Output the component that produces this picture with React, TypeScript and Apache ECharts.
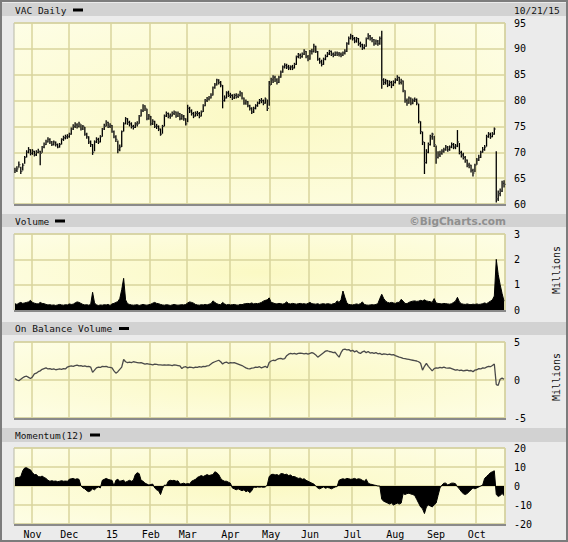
import React, { useEffect, useRef } from "react";
import * as echarts from "echarts";

// ---- calendar (trading days) ----
const START = "2014-10-21";
const END = "2015-10-21";
const HOLIDAYS = ["2014-11-27", "2014-12-25", "2015-01-01", "2015-01-19", "2015-02-16", "2015-04-03", "2015-05-25", "2015-07-03", "2015-09-07"];
const MONTH_LABELS = ["15", "Feb", "Mar", "Apr", "May", "Jun", "Jul", "Aug", "Sep", "Oct", "Nov", "Dec"];

// ---- price (daily close / high / low) ----
const CLOSE = [
  66.5, 66.8, 67.6, 66.3, 67.5, 69.0, 70.0, 70.5, 69.8, 70.2,
  69.5, 70.0, 70.2, 69.8, 71.0, 71.5, 72.0, 72.5, 72.0, 71.5,
  72.0, 71.5, 71.0, 71.5, 72.5, 72.8, 73.0, 73.0, 73.5, 74.5,
  75.0, 75.3, 75.0, 75.5, 74.5, 75.0, 73.5, 73.0, 72.0, 71.5,
  70.0, 72.0, 72.5, 72.0, 73.0, 74.5, 75.0, 75.8, 75.0, 75.2,
  74.0, 73.0, 72.5, 70.5, 71.0, 74.0, 75.5, 76.5, 75.8, 75.5,
  75.0, 74.8, 75.5, 75.5, 77.0, 78.0, 79.0, 78.5, 76.5, 77.0,
  75.5, 76.0, 75.0, 75.0, 74.5, 73.5, 75.0, 77.0, 77.5, 77.0,
  77.0, 77.5, 77.8, 77.0, 77.5, 76.5, 77.0, 76.5, 75.5, 78.5,
  78.0, 77.5, 77.0, 77.5, 77.5, 77.0, 77.8, 79.0, 80.0, 80.3,
  80.5, 81.0, 82.5, 83.0, 84.0, 83.5, 83.0, 80.0, 80.5, 81.5,
  81.0, 81.0, 80.5, 81.0, 80.8, 81.0, 81.5, 80.5, 79.5, 79.8,
  79.0, 78.5, 77.8, 78.5, 79.0, 79.5, 80.0, 80.0, 79.5, 80.3,
  78.5, 83.0, 84.0, 84.5, 84.0, 83.5, 84.5, 85.5, 86.5, 86.8,
  86.5, 86.3, 86.5, 86.3, 87.0, 88.5, 88.8, 88.5, 89.0, 89.5,
  88.5, 88.0, 89.5, 89.5, 90.5, 89.5, 88.0, 87.5, 87.0, 88.0,
  88.5, 89.0, 89.5, 89.0, 88.8, 89.2, 89.0, 89.0, 88.8, 89.2,
  89.5, 91.0, 92.0, 92.5, 92.0, 91.5, 92.0, 91.0, 90.8, 90.2,
  90.5, 92.0, 92.5, 92.0, 91.8, 91.0, 91.5, 91.0, 92.0, 84.0,
  83.5, 83.8, 83.0, 83.5, 83.0, 83.5, 84.0, 84.5, 83.5, 83.8,
  82.0, 80.0, 79.5, 80.5, 79.5, 80.0, 80.2, 79.5, 76.0, 74.0,
  72.0, 68.0, 70.0, 71.5, 73.0, 73.5, 71.5, 69.0, 69.5, 69.8,
  70.2, 70.5, 71.0, 70.5, 71.0, 71.5, 71.0, 71.2, 72.0, 70.0,
  69.5, 69.0, 68.5, 67.5, 67.5, 66.5, 66.0, 67.5, 68.5, 69.0,
  70.0, 70.5, 71.0, 73.0, 73.5, 73.0, 73.5, 74.5, 61.0, 62.0,
  62.5, 64.0, 63.8,
];
const HIGH = [
  67.0, 67.3, 68.2, 67.2, 67.9, 69.3, 70.4, 71.0, 70.6, 70.6,
  70.3, 70.4, 70.7, 70.3, 71.2, 71.9, 72.4, 72.9, 72.7, 72.2,
  72.3, 72.1, 71.7, 71.8, 72.7, 73.2, 73.4, 73.5, 73.8, 74.8,
  75.4, 75.8, 75.6, 75.9, 75.4, 75.3, 74.9, 73.8, 73.1, 72.3,
  71.6, 72.3, 72.9, 72.8, 73.3, 74.7, 75.5, 76.2, 75.9, 75.6,
  75.3, 74.2, 73.3, 72.3, 71.5, 74.2, 75.8, 76.8, 76.6, 76.1,
  75.8, 75.3, 75.8, 76.0, 77.2, 78.3, 79.3, 79.1, 78.4, 77.4,
  77.0, 76.4, 76.1, 75.5, 75.2, 74.6, 75.3, 77.3, 77.9, 77.7,
  77.5, 77.9, 78.1, 77.9, 77.9, 77.6, 77.4, 77.2, 76.6, 79.2,
  78.8, 78.3, 77.8, 77.9, 78.0, 77.8, 78.1, 79.3, 80.3, 80.7,
  80.9, 81.4, 82.7, 83.4, 84.2, 84.1, 83.8, 83.0, 81.0, 81.8,
  81.9, 81.5, 81.2, 81.3, 81.4, 81.3, 81.9, 81.6, 80.6, 80.2,
  79.9, 79.2, 78.7, 78.8, 79.3, 79.8, 80.3, 80.5, 80.2, 80.6,
  80.2, 83.8, 84.4, 84.9, 84.8, 84.3, 84.8, 85.8, 86.8, 87.2,
  87.1, 86.9, 86.8, 86.9, 87.3, 88.7, 89.2, 89.1, 89.3, 89.9,
  89.6, 88.8, 89.8, 90.0, 91.0, 90.6, 89.6, 88.3, 87.9, 88.3,
  88.9, 89.4, 89.8, 89.7, 89.3, 89.5, 89.5, 89.4, 89.3, 89.5,
  89.9, 91.3, 92.4, 92.9, 92.7, 92.3, 92.3, 92.1, 91.4, 91.0,
  90.9, 92.2, 93.0, 92.7, 92.3, 91.9, 91.8, 91.7, 92.4, 93.5,
  84.3, 84.2, 84.0, 83.9, 83.8, 83.9, 84.3, 84.9, 84.6, 84.2,
  83.9, 82.0, 80.4, 80.8, 80.6, 80.4, 80.6, 80.4, 79.4, 76.0,
  74.0, 72.0, 70.6, 71.9, 73.4, 73.8, 73.2, 71.3, 70.2, 70.3,
  70.6, 70.9, 71.4, 71.2, 71.3, 71.9, 71.8, 71.6, 74.3, 71.8,
  70.3, 69.9, 69.3, 68.6, 68.0, 67.6, 66.8, 67.8, 68.9, 69.5,
  70.3, 71.0, 71.4, 73.4, 73.9, 73.8, 73.9, 74.8, 70.2, 62.6,
  63.0, 64.5, 64.6,
];
const LOW = [
  66.0, 66.2, 67.0, 65.8, 66.5, 67.8, 69.0, 69.8, 69.4, 69.5,
  69.2, 69.3, 69.8, 67.5, 69.9, 70.8, 71.4, 71.9, 71.6, 71.2,
  71.3, 71.1, 70.8, 70.9, 71.5, 72.2, 72.5, 72.6, 72.8, 73.4,
  74.3, 74.7, 74.6, 74.8, 74.2, 74.3, 73.2, 72.6, 71.6, 71.0,
  69.5, 70.2, 71.8, 71.6, 71.9, 73.0, 74.3, 75.0, 74.7, 74.7,
  73.8, 72.7, 72.0, 69.8, 70.2, 71.0, 74.0, 75.4, 75.3, 75.0,
  74.6, 74.4, 74.7, 75.0, 75.5, 76.9, 77.8, 78.0, 76.2, 76.3,
  75.2, 75.3, 74.7, 74.5, 74.1, 73.2, 73.6, 75.0, 76.8, 76.6,
  76.5, 76.9, 77.2, 76.7, 76.8, 76.2, 76.3, 76.1, 75.2, 75.8,
  77.6, 77.1, 76.6, 76.9, 77.0, 76.6, 76.9, 77.8, 78.9, 79.7,
  80.0, 80.4, 81.0, 82.3, 82.9, 83.1, 82.6, 78.5, 79.8, 80.4,
  80.7, 80.5, 80.1, 80.3, 80.4, 80.5, 80.8, 80.2, 79.2, 79.2,
  78.7, 78.1, 77.4, 77.6, 78.3, 78.8, 79.3, 79.5, 79.1, 79.4,
  78.0, 79.0, 83.0, 83.4, 83.6, 83.1, 83.4, 84.4, 85.4, 86.2,
  86.1, 85.9, 85.9, 85.9, 86.2, 86.9, 88.2, 88.1, 88.3, 88.8,
  88.2, 87.6, 87.9, 88.9, 89.3, 89.2, 87.7, 87.1, 86.6, 86.9,
  87.8, 88.4, 88.8, 88.6, 88.4, 88.6, 88.6, 88.5, 88.4, 88.6,
  88.9, 89.4, 90.8, 91.8, 91.6, 91.1, 91.2, 90.6, 90.3, 89.8,
  89.9, 90.4, 91.8, 91.6, 91.3, 90.6, 90.8, 90.6, 90.8, 82.3,
  83.0, 83.1, 82.6, 82.8, 82.4, 82.8, 83.3, 83.8, 83.1, 83.1,
  81.6, 79.6, 79.0, 79.4, 79.1, 79.3, 79.7, 79.1, 75.6, 73.5,
  71.4, 65.8, 67.8, 69.8, 71.3, 72.4, 71.0, 67.8, 68.8, 69.1,
  69.5, 69.9, 70.3, 70.1, 70.3, 70.8, 70.6, 70.6, 71.0, 69.6,
  69.0, 68.6, 68.0, 67.1, 66.9, 66.1, 65.3, 66.2, 67.6, 68.3,
  68.9, 69.9, 70.3, 71.1, 72.8, 72.6, 72.9, 73.4, 60.3, 60.6,
  61.5, 62.3, 63.2,
];

// ---- volume (millions) ----
const VOLUME = [
  0.25, 0.22, 0.27, 0.30, 0.26, 0.28, 0.30, 0.32, 0.38, 0.30,
  0.27, 0.25, 0.24, 0.30, 0.26, 0.25, 0.22, 0.20, 0.21, 0.19,
  0.20, 0.18, 0.20, 0.22, 0.20, 0.19, 0.21, 0.20, 0.24, 0.22,
  0.23, 0.28, 0.32, 0.30, 0.26, 0.22, 0.20, 0.21, 0.19, 0.22,
  0.70, 0.28, 0.20, 0.18, 0.20, 0.19, 0.21, 0.20, 0.22, 0.18,
  0.24, 0.26, 0.30, 0.33, 0.45, 0.80, 1.25, 0.40, 0.25, 0.22,
  0.20, 0.19, 0.20, 0.21, 0.18, 0.20, 0.22, 0.20, 0.19, 0.21,
  0.23, 0.27, 0.30, 0.26, 0.25, 0.22, 0.20, 0.19, 0.21, 0.20,
  0.18, 0.20, 0.22, 0.20, 0.19, 0.20, 0.21, 0.20, 0.22, 0.28,
  0.32, 0.30, 0.27, 0.22, 0.20, 0.19, 0.21, 0.20, 0.22, 0.20,
  0.23, 0.25, 0.36, 0.30, 0.25, 0.22, 0.21, 0.30, 0.24, 0.20,
  0.22, 0.20, 0.21, 0.22, 0.20, 0.19, 0.22, 0.21, 0.24, 0.25,
  0.26, 0.25, 0.28, 0.24, 0.26, 0.25, 0.27, 0.30, 0.35, 0.38,
  0.40, 0.48, 0.30, 0.28, 0.25, 0.24, 0.26, 0.25, 0.23, 0.26,
  0.32, 0.25, 0.24, 0.26, 0.25, 0.23, 0.25, 0.26, 0.24, 0.25,
  0.23, 0.26, 0.30, 0.25, 0.24, 0.23, 0.25, 0.22, 0.24, 0.25,
  0.23, 0.25, 0.24, 0.22, 0.25, 0.26, 0.36, 0.30, 0.40, 0.75,
  0.50, 0.28, 0.22, 0.21, 0.20, 0.22, 0.24, 0.22, 0.25, 0.32,
  0.22, 0.20, 0.19, 0.20, 0.21, 0.20, 0.22, 0.25, 0.45, 0.62,
  0.45, 0.35, 0.30, 0.28, 0.30, 0.28, 0.26, 0.30, 0.30, 0.42,
  0.35, 0.26, 0.25, 0.30, 0.33, 0.35, 0.36, 0.34, 0.35, 0.38,
  0.36, 0.40, 0.36, 0.34, 0.33, 0.30, 0.45, 0.28, 0.26, 0.25,
  0.24, 0.26, 0.25, 0.24, 0.23, 0.25, 0.30, 0.35, 0.50, 0.32,
  0.25, 0.23, 0.22, 0.24, 0.22, 0.21, 0.23, 0.22, 0.24, 0.22,
  0.23, 0.25, 0.28, 0.25, 0.30, 0.35, 0.40, 0.55, 2.00, 1.40,
  1.00, 0.65, 0.35,
];

// ---- on balance volume (millions) ----
const OBV = [
  0.2, 0.0, -0.1, 0.1, 0.3, 0.45, 0.5, 0.35, 0.2, 0.4,
  0.8, 0.9, 1.1, 1.2, 1.4, 1.5, 1.6, 1.45, 1.5, 1.4,
  1.45, 1.35, 1.4, 1.45, 1.4, 1.5, 1.45, 1.7, 1.8, 1.85,
  1.8, 1.9, 1.95, 1.85, 1.9, 1.8, 1.85, 1.75, 1.8, 1.7,
  1.0, 1.3, 1.6, 1.7, 1.65, 1.8, 1.75, 1.8, 1.7, 1.65,
  1.6, 1.2, 0.9, 1.1, 1.4, 1.7, 2.7, 2.4, 2.3, 2.35,
  2.3, 2.4, 2.35, 2.3, 2.25, 2.3, 2.2, 2.1, 2.15, 2.1,
  2.05, 2.0, 2.1, 2.05, 2.0, 2.0, 1.95, 2.0, 1.95, 2.0,
  1.95, 1.9, 2.0, 1.95, 1.9, 1.85, 1.5, 1.7, 1.75, 1.6,
  1.7, 1.65, 1.6, 1.7, 1.65, 1.75, 1.7, 1.8, 1.75, 1.85,
  1.9, 2.1, 2.3, 2.4, 2.5, 2.6, 2.4, 2.1, 2.3, 2.35,
  2.2, 2.3, 2.25, 2.3, 2.2, 2.1, 2.0, 1.9, 1.75, 1.6,
  1.5, 1.45, 1.55, 1.6, 1.7, 1.65, 1.75, 1.6, 1.7, 1.8,
  1.6, 2.3, 2.5, 2.6, 2.55, 2.7, 2.8, 2.85, 2.75, 2.8,
  3.2, 3.4, 3.5, 3.45, 3.5, 3.4, 3.5, 3.55, 3.5, 3.45,
  3.5, 3.4, 3.5, 3.6, 3.5, 3.3, 3.0, 3.2, 3.4, 3.6,
  3.8, 3.85, 3.75, 3.7, 3.6, 3.65, 3.3, 3.0, 3.6, 4.0,
  4.05, 3.95, 4.0, 3.8, 3.9, 3.7, 3.85, 3.6, 3.5, 3.7,
  3.8, 3.6, 3.75, 3.55, 3.6, 3.5, 3.6, 3.45, 3.5, 3.35,
  3.45, 3.4, 3.35, 3.4, 3.3, 3.35, 3.2, 3.1, 3.0, 2.95,
  2.85, 2.8, 2.75, 2.7, 2.65, 2.6, 2.55, 2.5, 2.4, 2.2,
  1.3, 1.8, 2.2, 1.8, 1.5, 1.2, 1.5, 1.6, 1.55, 1.65,
  1.6, 1.7, 1.6, 1.55, 1.6, 1.5, 1.4, 1.3, 1.35, 1.25,
  1.3, 1.2, 1.25, 1.3, 1.2, 1.25, 1.1, 1.3, 1.35, 1.5,
  1.45, 1.6, 1.55, 1.7, 1.8, 1.75, 1.9, 2.1, -0.6, -0.7,
  0.1, 0.25, 0.1,
];

// ---- momentum (12) ----
const MOMENTUM = [
  4, 4.5, 4.5, 5, 8, 9.5, 9.6, 9, 8.5, 7,
  6, 6, 5, 4.8, 5.2, 4.5, 4, 3, 2.5, 2.8,
  2.5, 2.6, 2.3, 2.5, 2.8, 2.5, 2.6, 2.5, 3.5, 3.8,
  4, 3.5, 3.8, 3.5, 0, -1, -1.5, -2.5, -3, -2.5,
  -1.5, -2, -1, -0.5, -1, 3, 3.5, 4, 3.5, 3.2,
  3, 0, 3, 3.5, 2.5, 2.8, 3, 2, 2.5, 3,
  2.5, 3, 6, 7, 6.5, 3, 2.5, 1.5, 1, 0.5,
  0.8, 1, -1, -2, -2.5, -4.5, -1.5, 0.5, 0.3, 2.5,
  3, 2.8, 3, 2.5, 2.7, 1, 1.2, 1.5, 1, 1.3,
  1, 2.5, 3, 3.5, 4.5, 5, 5.5, 5, 5.5, 6,
  5.5, 5.8, 6, 7.5, 7, 6, 4, 3, 2.5, 2.5,
  2, 1.5, -1, -1.5, -2, -1.5, -2, -2.5, -2, -3,
  -2.5, -3.5, -2.5, -0.5, -0.8, -0.5, -0.6, -0.5, -0.7, -0.5,
  0.5, 5, 6, 6.2, 5.8, 6, 5.5, 6.5, 6.5, 6,
  6.2, 5.5, 5.8, 5, 5, 4.5, 4, 4.2, 3.5, 3.8,
  3, 2.5, 2, 1.5, 1, 0, -1, -1.5, -1, -0.5,
  -1.2, -0.8, -1, -1.5, -1, -0.5, -0.3, 3, 3.5, 3.8,
  3.5, 4, 3.8, 3.5, 3.7, 4, 3.5, 3.8, 3.6, 3,
  2.5, 3.5, 1.5, 1, 0.8, 0.5, 0.3, 0, 0, -7,
  -8, -8.5, -9, -9.5, -9, -10, -9.5, -9, -9.5, -9,
  -4, -4.5, -4, -3.8, -4.2, -4.5, -5, -7, -9, -11,
  -12, -14.5, -11, -10, -10.5, -11, -10, -9, -5, -1,
  0.5, 1.5, 1.5, 0.5, 1, 1.5, 1.5, 1.2, -0.5, -1.5,
  -3, -4, -4.5, -4, -3, -2, -1, -1.5, -1, -0.5,
  0, 0.5, 4, 5, 6, 7, 7.5, 8, -4.5, -5.5,
  -5, -4, -5,
];

function buildTradingDays(start: string, end: string, holidays: string[]): string[] {
  const out: string[] = [];
  const d = new Date(start + "T00:00:00Z");
  const e = new Date(end + "T00:00:00Z");
  while (d.getTime() <= e.getTime()) {
    const wd = d.getUTCDay();
    const s = d.toISOString().slice(0, 10);
    if (wd !== 0 && wd !== 6 && holidays.indexOf(s) < 0) out.push(s);
    d.setUTCDate(d.getUTCDate() + 1);
  }
  return out;
}

const DATES = buildTradingDays(START, END, HOLIDAYS);

const FONT = '"DejaVu Sans Mono", monospace';
const GRID_LINE = "#d9d49c";

export default function App() {
  const ref = useRef<HTMLDivElement>(null);
  useEffect(() => {
    if (!ref.current) return;
    const chart = echarts.init(ref.current, undefined, { renderer: "svg" });
    const isMonthStart = (idx: number) =>
      idx > 0 && idx < DATES.length && DATES[idx].slice(5, 7) !== DATES[idx - 1].slice(5, 7);
    const bg = () =>
      new echarts.graphic.RadialGradient(0.5, 0.5, 0.75, [
        { offset: 0, color: "#fbf9c4" },
        { offset: 1, color: "#fefee8" },
      ]);
    const grids = [
      { top: 23, height: 181 },
      { top: 234, height: 76 },
      { top: 342, height: 76 },
      { top: 448, height: 76 },
    ].map((g) => ({
      left: 14,
      width: 491,
      top: g.top,
      height: g.height,
      show: true,
      backgroundColor: bg(),
      borderColor: "#b9b9a6",
      borderWidth: 1,
    }));
    const xAxes = [0, 1, 2, 3].map((i) => ({
      type: "category",
      gridIndex: i,
      data: DATES,
      boundaryGap: true,
      axisLine: { show: false },
      axisTick: { show: false },
      axisLabel:
        i === 3
          ? {
              show: true,
              interval: (idx: number) => isMonthStart(idx),
              formatter: (v: string) => MONTH_LABELS[+v.slice(5, 7) - 1],
              fontFamily: FONT,
              fontSize: 10,
              color: "#000",
              margin: 5,
            }
          : { show: false },
      splitLine: {
        show: true,
        interval: (idx: number) => isMonthStart(idx),
        lineStyle: { color: GRID_LINE, width: 1.5 },
      },
    }));
    const yBase = (i: number, min: number, max: number, interval: number) => ({
      type: "value",
      gridIndex: i,
      position: "right",
      min,
      max,
      interval,
      axisLine: { show: false },
      axisTick: { show: false },
      axisLabel: { fontFamily: FONT, fontSize: 10, color: "#000", margin: 9 },
      splitLine: { show: true, lineStyle: { color: GRID_LINE, width: 1.5 } },
    });
    const ohlc = DATES.map((_, i) => [i, LOW[i], HIGH[i], CLOSE[i]]);
    const title = (text: string, y: number, dashX: number) => [
      {
        type: "text",
        style: { text, x: 15, y, font: `9.5px ${FONT}`, fill: "#111", textVerticalAlign: "middle" },
        z: 10,
      },
      { type: "rect", shape: { x: dashX, y: y - 1.5, width: 10, height: 3 }, style: { fill: "#000" }, z: 10 },
    ];
    const strip = (y: number, h: number) => ({
      type: "rect",
      shape: { x: 2, y, width: 564, height: h },
      style: { fill: "#d2d2d2" },
      z: 1,
    });
    const millions = (y: number) => ({
      type: "text",
      x: 556,
      y,
      rotation: Math.PI / 2,
      style: { text: "Millions", x: 0, y: 0, font: `10px ${FONT}`, fill: "#111", textAlign: "center", textVerticalAlign: "middle" },
      z: 10,
    });
    const option: any = {
      animation: false,
      backgroundColor: "#ebebeb",
      grid: grids,
      xAxis: xAxes,
      yAxis: [
        yBase(0, 60, 95, 5),
        yBase(1, 0, 3, 1),
        yBase(2, -5, 5, 5),
        yBase(3, -20, 20, 10),
      ],
      series: [
        {
          type: "custom",
          xAxisIndex: 0,
          yAxisIndex: 0,
          data: ohlc,
          encode: { x: 0, y: [1, 2, 3] },
          renderItem: (params: any, api: any) => {
            const idx = api.value(0);
            const lo = api.coord([idx, api.value(1)]);
            const hi = api.coord([idx, api.value(2)]);
            const cl = api.coord([idx, api.value(3)]);
            return {
              type: "group",
              children: [
                { type: "line", shape: { x1: lo[0], y1: lo[1], x2: hi[0], y2: hi[1] }, style: { stroke: "#000", lineWidth: 1.3 } },
                { type: "line", shape: { x1: cl[0], y1: cl[1], x2: cl[0] + 1.6, y2: cl[1] }, style: { stroke: "#444", lineWidth: 1.2 } },
              ],
            };
          },
        },
        {
          type: "line",
          xAxisIndex: 1,
          yAxisIndex: 1,
          data: VOLUME,
          symbol: "none",
          lineStyle: { color: "#000", width: 1 },
          areaStyle: { color: "#000", opacity: 1 },
        },
        {
          type: "line",
          xAxisIndex: 2,
          yAxisIndex: 2,
          data: OBV,
          symbol: "none",
          lineStyle: { color: "#4a4a4a", width: 1.3 },
        },
        {
          type: "line",
          xAxisIndex: 3,
          yAxisIndex: 3,
          data: MOMENTUM,
          symbol: "none",
          lineStyle: { color: "#000", width: 1 },
          areaStyle: { color: "#000", opacity: 1, origin: 0 },
        },
      ],
      graphic: [
        { type: "rect", shape: { x: 1, y: 1, width: 566, height: 540 }, style: { fill: "none", stroke: "#7c7c7c", lineWidth: 2 }, z: 20 },
        strip(3, 13),
        strip(214, 13),
        strip(322, 13),
        strip(428, 14),
        ...title("VAC Daily", 10, 73),
        ...title("Volume", 221, 55),
        ...title("On Balance Volume", 328.5, 119),
        ...title("Momentum(12)", 435, 90),
        {
          type: "text",
          style: { text: "10/21/15", x: 514, y: 10, font: `9.5px ${FONT}`, fill: "#111", textVerticalAlign: "middle" },
          z: 10,
        },
        {
          type: "text",
          style: {
            text: "\u00a9BigCharts.com",
            x: 506,
            y: 221,
            font: 'bold 10.5px "DejaVu Sans", sans-serif',
            fill: "#8f8f8f",
            textAlign: "right",
            textVerticalAlign: "middle",
          },
          z: 10,
        },
        millions(270),
        millions(377),
        { type: "line", shape: { x1: 14, y1: 205, x2: 506, y2: 205 }, style: { stroke: "#8a8a8a", lineWidth: 2 }, z: 5 },
        { type: "line", shape: { x1: 14, y1: 311, x2: 506, y2: 311 }, style: { stroke: "#8a8a8a", lineWidth: 2 }, z: 5 },
        { type: "line", shape: { x1: 14, y1: 419, x2: 506, y2: 419 }, style: { stroke: "#8a8a8a", lineWidth: 2 }, z: 5 },
        { type: "line", shape: { x1: 14, y1: 525, x2: 506, y2: 525 }, style: { stroke: "#8a8a8a", lineWidth: 2 }, z: 5 },
      ],
    };
    chart.setOption(option);
    return () => chart.dispose();
  }, []);
  return (
    <div
      ref={ref}
      style={{ position: "absolute", left: 0, top: 0, width: 568, height: 542 }}
    />
  );
}
